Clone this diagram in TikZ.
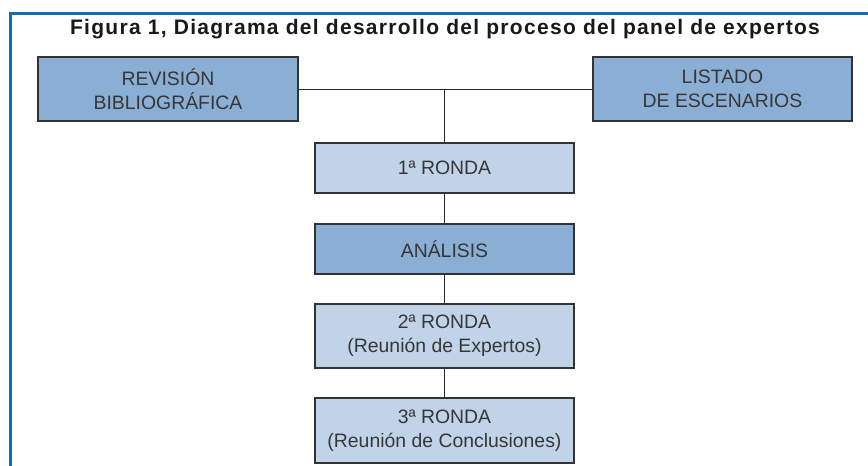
\documentclass[tikz,border=0pt]{standalone}
\usepackage{fontspec}
\setmainfont{Liberation Sans}
\newfontfamily\titlefont[LetterSpace=6.2]{Liberation Sans}
\usetikzlibrary{positioning}
\definecolor{framblue}{RGB}{22,108,172}
\definecolor{boxdark}{RGB}{138,174,212}
\definecolor{boxlight}{RGB}{192,211,232}
\definecolor{boxtext}{RGB}{55,55,55}
\tikzset{
  box/.style={draw=black!80, line width=1.4pt, text=boxtext, align=center,
    font=\fontsize{19.4}{24}\selectfont, inner sep=0pt},
  darkbox/.style={box, fill=boxdark},
  lightbox/.style={box, fill=boxlight},
  link/.style={line width=1pt, black!85}
}

\begin{document}
\begin{tikzpicture}[x=1pt, y=-1pt]
	%%%%% START %%%%%
	\useasboundingbox (0, 0) rectangle (868, 466);

	% marco
	\draw[line width=3pt, color=framblue] (10, 466) -- (10, 13) -- (868, 13);

	\node[font=\titlefont\fontsize{21}{24}\selectfont\bfseries, text=black!90] (titulo) at (445, 29)
		{Figura 1, Diagrama del desarrollo del proceso del panel de expertos};

	\node[darkbox, minimum width=260pt, minimum height=64pt] (revision) at (168, 89)
		{REVISIÓN\\BIBLIOGRÁFICA};
	\node[darkbox, minimum width=259pt, minimum height=64pt] (listado) at (722.5, 89)
		{LISTADO\\DE ESCENARIOS};

	\node[lightbox, minimum width=259pt, minimum height=50pt] (ronda1) at (444.5, 168)
		{1ª RONDA};
	\node[darkbox, minimum width=259pt, minimum height=50pt] (analisis) at (444.5, 249)
		{ANÁLISIS};
	\node[lightbox, minimum width=259pt, minimum height=64pt] (ronda2) at (444.5, 336)
		{2ª RONDA\\(Reunión de Expertos)};
	\node[lightbox, minimum width=259pt, minimum height=65pt] (ronda3) at (444.5, 430.5)
		{3ª RONDA\\(Reunión de Conclusiones)};

	\coordinate (cruce) at (444.5, 89);

	\draw[link] (revision) -- (listado);
	\draw[link] (cruce) -- (ronda1);
	\draw[link] (ronda1) -- (analisis);
	\draw[link] (analisis) -- (ronda2);
	\draw[link] (ronda2) -- (ronda3);
	%%%%% END %%%%%
\end{tikzpicture}
\end{document}
